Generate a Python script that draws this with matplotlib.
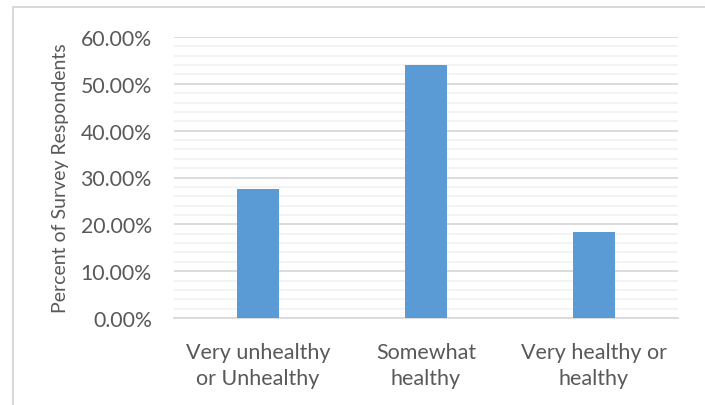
import matplotlib
matplotlib.use("Agg")
import matplotlib.pyplot as plt
from matplotlib.patches import Rectangle
from matplotlib.ticker import MultipleLocator, FuncFormatter

categories = ["Very unhealthy\nor Unhealthy", "Somewhat\nhealthy", "Very healthy or\nhealthy"]
shares = [27.5, 54.0, 18.4]
y_ticks = [0, 10, 20, 30, 40, 50, 60]

W, H = 705, 406
fig = plt.figure(figsize=(W / 100, H / 100), dpi=100)
plt.rcParams["font.family"] = ["Lato", "DejaVu Sans"]

# chart frame
fig.patches.append(Rectangle((12.5 / W, -0.1), 1.2, 1.1 - 8 / H, transform=fig.transFigure,
                             fill=False, edgecolor="#d9d9d9", linewidth=1.5))

left, right, top, bottom = 174, 678, 38, 319
ax = fig.add_axes([left / W, 1 - bottom / H, (right - left) / W, (bottom - top) / H])

x = range(len(categories))
ax.bar(x, shares, width=0.25, color="#5b9bd5", zorder=3)

ax.set_xlim(-0.5, len(categories) - 0.5)
ax.set_ylim(0, 60)
ax.set_yticks(y_ticks)
ax.yaxis.set_minor_locator(MultipleLocator(2))
ax.yaxis.set_major_formatter(FuncFormatter(lambda v, p: f"{v:.2f}%"))
ax.grid(axis="y", which="major", color="#d9d9d9", linewidth=1.3, zorder=0)
ax.grid(axis="y", which="minor", color="#f2f2f2", linewidth=1.3, zorder=0)

ax.set_xticks(list(x))
ax.set_xticklabels(categories, fontsize=15.5, color="#595959", linespacing=1.4)
ax.tick_params(axis="y", which="both", length=0, labelsize=15.3, labelcolor="#595959", pad=16)
ax.tick_params(axis="x", length=0, pad=17)

for s in ["top", "right", "left"]:
    ax.spines[s].set_visible(False)
ax.spines["bottom"].set_color("#d9d9d9")
ax.spines["bottom"].set_linewidth(1.3)

ax.set_ylabel("Percent of Survey Respondents", fontsize=14, color="#595959", labelpad=8)

fig.savefig("out.png", dpi=100)
